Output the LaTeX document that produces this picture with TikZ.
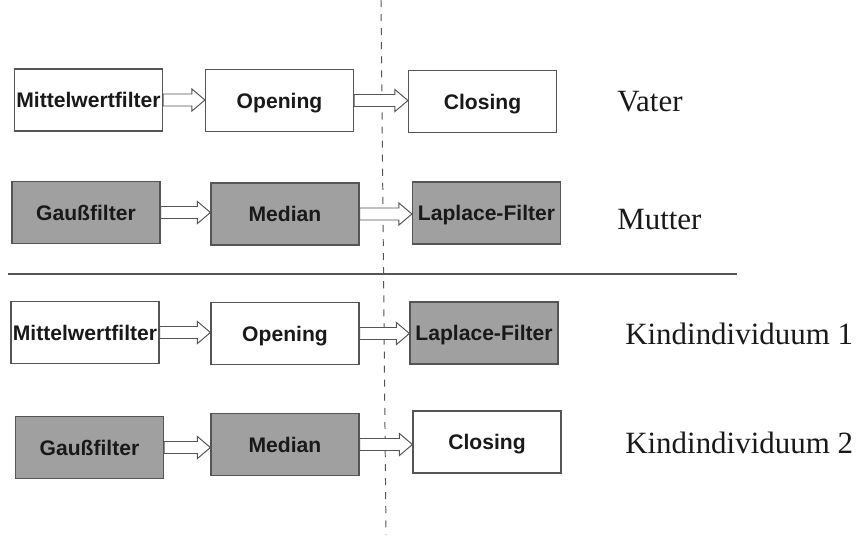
\documentclass[tikz,border=0pt]{standalone}
\usepackage{fontspec}
\setmainfont{Liberation Serif}
\setsansfont{Liberation Sans}
\usetikzlibrary{calc}

\definecolor{boxgray}{RGB}{160,160,160}
\definecolor{linegray}{RGB}{85,85,85}
\definecolor{txt}{RGB}{25,25,25}

% hollow block arrow from one filter box to the next
\newcommand{\pipe}[2]{%
	\coordinate (tip) at (#2.west |- #1.east);
	\draw [hollow] ($(#1.east)+(0,-6)$) -- ($(tip)+(-13,-6)$) -- ($(tip)+(-13,-11)$) -- (tip)
		-- ($(tip)+(-13,11)$) -- ($(tip)+(-13,6)$) -- ($(#1.east)+(0,6)$) -- cycle;
}

\begin{document}
\begin{tikzpicture}[x=0.025cm, y=-0.025cm]
			\tikzstyle{filter}=[draw=linegray, line width=0.8pt, fill=white, inner sep=0pt, minimum width=3.7cm, minimum height=1.55cm, text height=10.7pt, text depth=0pt, text=txt, font=\sffamily\bfseries\fontsize{15}{18}\selectfont]
			\tikzstyle{gfilter}=[filter, fill=boxgray]
			\tikzstyle{hollow}=[draw=linegray, line width=0.7pt, fill=white, line join=miter]
			\tikzstyle{who}=[anchor=base west, inner sep=0pt, text=txt, font=\fontsize{22}{26}\selectfont]
			\useasboundingbox (0,0) rectangle (858,535);
			% crossover cut and separator
			\draw [linegray, line width=0.7pt, dash pattern=on 5pt off 5pt] (381,0) -- (386,535);
			\draw [linegray, line width=0.8pt] (8,274) -- (737,274);
			% Vater
			\node[filter] (M1) at (88.5, 100) {Mittelwertfilter};
			\node[filter] (O1) at (279.5, 100.5) {Opening};
			\node[filter] (C1) at (482.5, 101.5) {Closing};
			% Mutter
			\node[gfilter] (G2) at (86, 212.5) {Gaußfilter};
			\node[gfilter] (Md2) at (285, 214) {Median};
			\node[gfilter] (L2) at (486.5, 213) {Laplace-Filter};
			% Kind 1
			\node[filter] (M3) at (85, 332.5) {Mittelwertfilter};
			\node[filter] (O3) at (285, 333.5) {Opening};
			\node[gfilter] (L3) at (484, 333) {Laplace-Filter};
			% Kind 2
			\node[gfilter] (G4) at (89.5, 447.5) {Gaußfilter};
			\node[gfilter] (Md4) at (285, 444.5) {Median};
			\node[filter] (C4) at (487, 442) {Closing};
			\pipe{M1}{O1} \pipe{O1}{C1}
			\pipe{G2}{Md2} \pipe{Md2}{L2}
			\pipe{M3}{O3} \pipe{O3}{L3}
			\pipe{G4}{Md4} \pipe{Md4}{C4}
			\node[who] (vater) at (617, 111) {Vater};
			\node[who] (mutter) at (617, 229) {Mutter};
			\node[who] (kind1) at (625, 344) {Kindindividuum 1};
			\node[who] (kind2) at (625, 453) {Kindindividuum 2};
	\end{tikzpicture}
\end{document}
